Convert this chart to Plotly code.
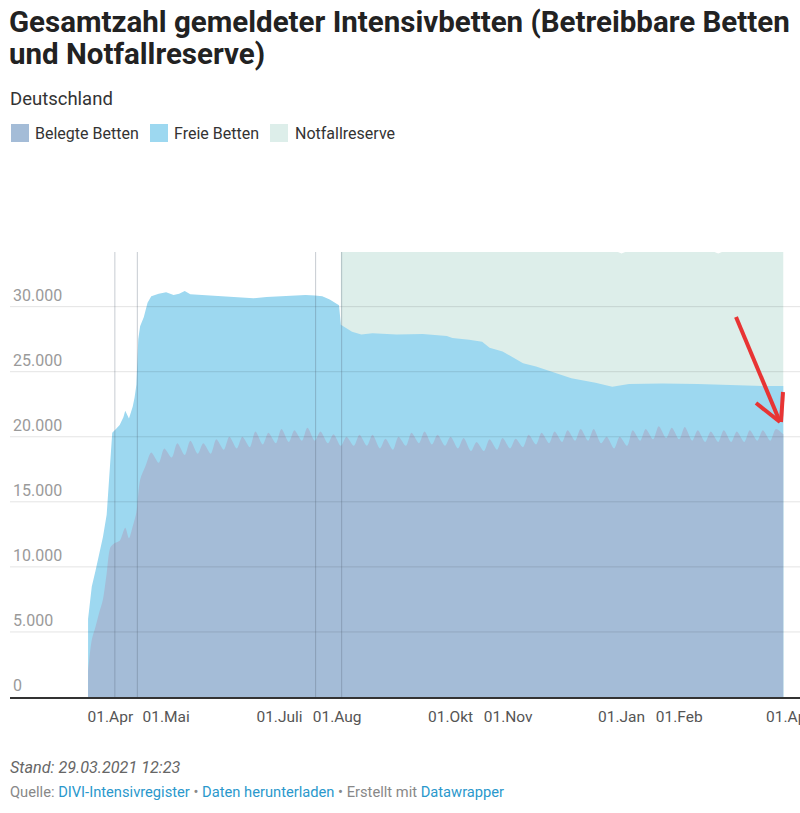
import pandas as pd
import plotly.graph_objects as go

# ---------------- data ----------------
# Belegte Betten: early daily-ish points, then Monday (low) / Thursday (high) values
belegt_early_dates = ["2020-03-20", "2020-03-22", "2020-03-24", "2020-03-26", "2020-03-28",
                      "2020-03-30", "2020-04-01", "2020-04-03", "2020-04-06", "2020-04-09",
                      "2020-04-11", "2020-04-13", "2020-04-15", "2020-04-17"]
belegt_early = [2000, 4400, 5400, 6500, 7500, 9500, 11500, 11800, 12000, 13000,
                12200, 13100, 14200, 16700]

belegt_mondays = [17800, 18000, 18400, 18600, 18700, 18700, 19000, 19100, 19200, 19400,
                  19500, 19600, 19700, 19700, 19500, 19300, 19300, 19300, 19100, 19000,
                  19300, 19500, 19400, 19300, 19100, 18900, 18900, 19000, 19100, 19200,
                  19400, 19500, 19600, 19700, 19700, 19500, 19100, 19300, 19700, 19800,
                  19900, 19800, 19700, 19600, 19600, 19600, 19600, 19700, 19700, 20200]
belegt_thursdays = [18800, 19100, 19500, 19700, 19500, 19800, 20000, 20000, 20400, 20300,
                    20600, 20500, 20700, 20400, 20200, 20000, 20150, 20150, 19850, 20000,
                    20300, 20400, 20150, 20000, 19900, 19600, 19800, 19900, 19850, 20150,
                    20300, 20400, 20500, 20600, 20600, 20000, 20000, 20500, 20600, 20800,
                    20700, 20750, 20500, 20400, 20500, 20400, 20500, 20500, 20600]
first_monday = "2020-04-20"
first_thursday = "2020-04-23"

# Betreibbare Betten (Belegte + Freie Betten), upper edge of the light-blue area
betreibbar_dates = ["2020-03-20", "2020-03-22", "2020-03-24", "2020-03-26", "2020-03-28",
                    "2020-03-30", "2020-04-01", "2020-04-02", "2020-04-04", "2020-04-06",
                    "2020-04-08", "2020-04-09", "2020-04-11", "2020-04-13", "2020-04-14",
                    "2020-04-15", "2020-04-16", "2020-04-17", "2020-04-19", "2020-04-21",
                    "2020-04-23", "2020-04-27", "2020-05-01", "2020-05-05", "2020-05-08",
                    "2020-05-11", "2020-05-14", "2020-05-20", "2020-05-27", "2020-06-03",
                    "2020-06-10", "2020-06-17", "2020-06-24", "2020-07-01", "2020-07-08",
                    "2020-07-15", "2020-07-20", "2020-07-24", "2020-07-28", "2020-08-01",
                    "2020-08-02", "2020-08-03", "2020-08-09", "2020-08-14", "2020-08-20",
                    "2020-09-02", "2020-09-16", "2020-09-29", "2020-10-02", "2020-10-11",
                    "2020-10-18", "2020-10-22", "2020-10-29", "2020-11-03", "2020-11-09",
                    "2020-11-16", "2020-11-27", "2020-12-05", "2020-12-18", "2020-12-27",
                    "2021-01-05", "2021-01-23", "2021-02-11", "2021-03-01", "2021-03-18",
                    "2021-03-29"]
betreibbar = [6000, 8500, 9700, 11000, 12300, 14000, 18000, 20300, 20600, 20900,
              21500, 22000, 21400, 22300, 23000, 24000, 27500, 28500, 29200, 30300,
              30800, 31000, 31100, 30900, 31000, 31200, 30950, 30900, 30800, 30750,
              30700, 30650, 30750, 30800, 30850, 30900, 30850, 30800, 30550, 30200,
              30100, 28600, 28080, 27850, 27950, 27850, 27900, 27750, 27600, 27450,
              27300, 26850, 26550, 26150, 25650, 25400, 24900, 24500, 24150, 23850,
              24050, 24100, 24050, 23950, 23900, 23900]

# Betreibbare Betten + Notfallreserve, upper edge of the pale-green area
reserve_dates = ["2020-08-03", "2020-09-01", "2020-10-01", "2020-11-01", "2020-12-01",
                 "2020-12-30", "2021-01-01", "2021-01-03", "2021-02-20", "2021-02-22",
                 "2021-02-24", "2021-03-29"]
mit_reserve = [34200, 34200, 34200, 34200, 34200, 34200, 34080, 34200, 34200, 34080,
               34200, 34200]

# axis ticks
x_tick_dates = ["2020-04-01", "2020-05-01", "2020-07-01", "2020-08-01", "2020-10-01",
                "2020-11-01", "2021-01-01", "2021-02-01", "2021-04-01"]
x_tick_text = ["01.Apr", "01.Mai", "01.Juli", "01.Aug", "01.Okt", "01.Nov",
               "01.Jan", "01.Feb", "01.Apr"]
y_tick_vals = [0, 5000, 10000, 15000, 20000, 25000, 30000]
y_tick_text = ["0", "5.000", "10.000", "15.000", "20.000", "25.000", "30.000"]

marker_dates = ["2020-04-03 10:00", "2020-04-15 12:00", "2020-07-20 10:00", "2020-08-03 10:00"]

series_names = ["Belegte Betten", "Freie Betten", "Notfallreserve"]
colors = ["#a4bcd7", "#9dd8f0", "#ddeeea"]

# ---------------- build the weekly belegt series ----------------
mondays = pd.date_range(first_monday, periods=len(belegt_mondays), freq="7D")
thursdays = pd.date_range(first_thursday, periods=len(belegt_thursdays), freq="7D")
weekly = sorted([(d, v) for d, v in zip(mondays, belegt_mondays)] +
                [(d, v) for d, v in zip(thursdays, belegt_thursdays)])
belegt_x = list(pd.to_datetime(belegt_early_dates)) + [d for d, _ in weekly]
belegt_y = belegt_early + [v for _, v in weekly]

# ---------------- layout helpers (pixel -> paper) ----------------
W, H = 800, 813
L, R, T, B = 10, 0, 252, 116
PW, PH = W - L - R, H - T - B


def px(x):
    return (x - L) / PW


def py(y):
    return (H - B - y) / PH


FONT = "Roboto"

fig = go.Figure()
fig.add_trace(go.Scatter(x=pd.to_datetime(reserve_dates), y=mit_reserve, mode="lines",
                         line=dict(width=0), fill="tozeroy", fillcolor=colors[2],
                         name=series_names[2], showlegend=False, hoverinfo="skip"))
fig.add_trace(go.Scatter(x=pd.to_datetime(betreibbar_dates), y=betreibbar, mode="lines",
                         line=dict(width=0), fill="tozeroy", fillcolor=colors[1],
                         name=series_names[1], showlegend=False, hoverinfo="skip"))
fig.add_trace(go.Scatter(x=belegt_x, y=belegt_y, mode="lines",
                         line=dict(width=0, shape="spline", smoothing=0.8),
                         fill="tozeroy", fillcolor=colors[0],
                         name=series_names[0], showlegend=False, hoverinfo="skip"))

shapes = []
# gridlines above the areas
for v in y_tick_vals[1:]:
    shapes.append(dict(type="line", xref="paper", yref="y", x0=0, x1=1, y0=v, y1=v,
                       line=dict(color="rgba(0,0,0,0.11)", width=1), layer="above"))
# vertical marker lines
for d in marker_dates:
    shapes.append(dict(type="line", xref="x", yref="paper", x0=d, x1=d, y0=0, y1=1,
                       line=dict(color="rgba(80,95,115,0.32)", width=1), layer="above"))
# legend swatches
for x0, c in zip([11, 150, 270], colors):
    shapes.append(dict(type="rect", xref="paper", yref="paper",
                       x0=px(x0), x1=px(x0 + 18), y0=py(142), y1=py(124),
                       fillcolor=c, line=dict(width=0)))
# red hand-drawn arrow
RED = "#e83434"
for (x0, y0, x1, y1) in [(736, 317, 780, 422), (756, 403, 780, 422), (783, 392, 781, 422)]:
    shapes.append(dict(type="line", xref="paper", yref="paper",
                       x0=px(x0), y0=py(y0), x1=px(x1), y1=py(y1),
                       line=dict(color=RED, width=4), layer="above"))

annotations = []


def txt(text, x, y, size, color, bold=False, italic=False):
    s = text
    if bold:
        s = "<b>" + s + "</b>"
    if italic:
        s = "<i>" + s + "</i>"
    annotations.append(dict(text=s, xref="paper", yref="paper", x=px(x), y=py(y),
                            xanchor="left", yanchor="middle", showarrow=False,
                            font=dict(family=FONT, size=size, color=color)))


txt("Gesamtzahl gemeldeter Intensivbetten (Betreibbare Betten", 7, 22, 29.5, "#222222", bold=True)
txt("und Notfallreserve)", 7, 54, 29.5, "#222222", bold=True)
txt("Deutschland", 8, 99, 18.5, "#333333")
for x0, name in zip([33, 172, 293], series_names):
    txt(name, x0, 133, 16, "#333333")
txt("Stand: 29.03.2021 12:23", 8, 767, 16.2, "#666666", italic=True)
LINK = "#2a98cc"
quelle = ("Quelle: <span style='color:%s'>DIVI-Intensivregister</span> • "
          "<span style='color:%s'>Daten herunterladen</span> • Erstellt mit "
          "<span style='color:%s'>Datawrapper</span>") % (LINK, LINK, LINK)
txt(quelle, 8, 792, 14.7, "#888888")

fig.update_layout(
    width=W, height=H,
    margin=dict(l=L, r=R, t=T, b=B, autoexpand=False),
    paper_bgcolor="white", plot_bgcolor="white",
    font=dict(family=FONT),
    shapes=shapes, annotations=annotations,
    showlegend=False,
    xaxis=dict(range=["2020-02-07", "2021-04-07"], tickvals=x_tick_dates, ticktext=x_tick_text,
               showgrid=False, zeroline=False, showline=True, linecolor="#333333", linewidth=1.5,
               ticks="outside", ticklen=5, tickcolor="rgba(0,0,0,0)",
               ticklabeloverflow="allow", automargin=False,
               tickfont=dict(family=FONT, size=15.5, color="#555555"), layer="above traces"),
    yaxis=dict(range=[0, 34200], tickvals=y_tick_vals, ticktext=y_tick_text,
               showgrid=False, zeroline=False, showline=False, automargin=False,
               ticklabelposition="inside top", ticks="",
               tickfont=dict(family=FONT, size=16, color="#9a9a9a")),
)

fig.write_html("out.html", config={"displayModeBar": False},
               post_script="document.body.style.margin='0px';")
